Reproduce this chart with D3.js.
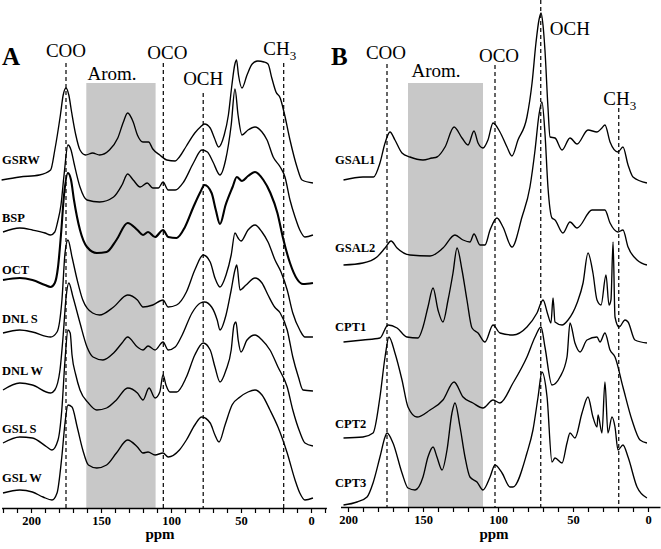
<!DOCTYPE html>
<html>
<head>
<meta charset="utf-8">
<script src="https://cdn.jsdelivr.net/npm/d3@7"></script>
<style>
  body { margin: 0; background: #fff; }
  svg text { font-family: "Liberation Serif", "Times New Roman", serif; fill: #000; }
</style>
</head>
<body>
<div id="chart"></div>
<script>
// ---- data: [ppm, intensity above the spectrum's own baseline] ----
var ppmLabels = [200, 150, 100, 50, 0];
var aromRangeA = [160.5, 111];
var aromRangeB = [160, 110];
var markerNames = ["COO", "OCO", "OCH", "CH3"];
var markerPpmA = [175, 105.5, 77, 19.5];
var markerPpmB = [174, 102, 71.5, 19.5];

var namesA = ["GSRW", "BSP", "OCT", "DNL S", "DNL W", "GSL S", "GSL W"];
var offsetsA = [328, 275, 226, 173, 121, 63, 11];
var namesB = ["GSAL1", "GSAL2", "CPT1", "CPT2", "CPT3"];
var offsetsB = [327, 242, 165, 67, 5];

var gsrw = [[221,0],[208,3],[194,5],[186,10],[183,30],[179,65],[177,85],[175,92],[173,85],[171,68],[168,45],[165,30],[161,25],[156,27],[151,25],[144,30],[138,42],[134,58],[131,67],[127,58],[124,45],[120,38],[116,38],[113,31],[108,25],[103,20],[97,19],[94,23],[89,34],[83,47],[79,53],[76,56],[72,52],[69,42],[66,33],[62,45],[59,65],[56.5,95],[54.5,115],[53.2,120],[51.8,105],[49.3,92],[45.7,105],[42,116],[38,119],[33.6,118],[30.7,116],[28,102],[25,88],[22,82],[19.3,68],[15,40],[10,13],[6.4,0],[-1.4,-3]];
var bsp = [[220,1],[208,5],[199,3],[190,0],[186,-2],[183,1],[181,11],[178.6,28],[176.4,58],[173.6,88],[171.4,83],[169.3,70],[165,46],[160,33],[151,31],[141,36],[135,48],[131,59],[127,53],[122,46],[117,50],[113,45],[109,45],[105.7,51],[102,43],[97,43],[91,51],[84,70],[78,83],[74,81],[70,71],[65,58],[61,73],[57,108],[54.3,144],[52.1,118],[49.3,98],[45,103],[40,106],[35,101],[31.4,93],[27,76],[22,66],[18.6,56],[15,33],[11.4,16],[8,3],[4.3,-4],[-1.4,-2]];
var oct = [[220,2],[208,4],[199,2],[190,-3],[186,-5],[183,-1],[180.7,15],[178.6,47],[176.4,87],[173.6,109],[171.4,102],[169.3,82],[165,52],[160,35],[153,29],[146,30],[139,42],[131,59],[124,52],[120,47],[116.4,50],[111.4,45],[105.7,52],[102,45],[96,44],[90,55],[84,75],[79,90],[76,97],[71,89],[68,72],[65,58],[61,77],[56,95],[53,105],[49.3,101],[45,106],[40,110],[34,102],[29,89],[24,69],[20,44],[15,19],[10,3],[5.7,-2],[-1.4,-1]];
var dnlS = [[220,2],[208,5],[199,3],[186,-2],[181.4,3],[177.9,35],[175.7,82],[173.6,95],[170.7,78],[167,55],[163,35],[156,22],[151,20],[141,28],[131,40],[124,35],[120,28],[113,30],[105.7,35],[102,28],[96,30],[89,43],[83,65],[77,80],[72,73],[68.6,57],[65,48],[60.7,60],[57,80],[54.3,102],[52.1,97],[50,94],[45,105],[40,110],[35,103],[30.7,93],[25.7,75],[21.4,63],[17,45],[13,22],[8,5],[4.3,-2],[-1.4,-2]];
var dnlW = [[220,-3],[208,4],[199,2],[186,-6],[183,-3],[179.3,17],[177,52],[175,89],[173,104],[170,90],[165,64],[160,40],[155.7,30],[148.6,27],[141,34],[135,44],[131,50],[124,40],[120,37],[116.4,41],[111.4,37],[105.7,45],[102,37],[97,40],[92,52],[85,74],[79,84],[76,85],[71,80],[67,67],[65,57],[60.7,72],[57,97],[54.3,117],[53,122],[50.7,97],[46.4,102],[40,109],[35,104],[30.7,92],[26,80],[22,74],[17,57],[13,30],[9,10],[5.7,-3],[-1.4,-4]];
var gslS = [[220,2],[208,8],[199,7],[188.6,-2],[185,-5],[180.7,5],[178,35],[175.7,85],[173.6,115],[172,112],[170.7,90],[168,70],[165,55],[159,42],[153,35],[146,37],[139,45],[131,57],[124,52],[120,45],[115.7,57],[111.4,47],[108,53],[105.7,70],[103.6,60],[100.7,53],[96,53],[89,68],[83,90],[77,102],[72,95],[68.6,78],[65,63],[60.7,75],[57,95],[55,120],[53.6,123],[52,105],[50,93],[45.7,105],[40,110],[35,105],[29.3,95],[23.6,78],[17,58],[13,35],[8,13],[4.3,2],[-1.4,-1]];
var gslW = [[220,4],[208,7],[199,5],[191.4,0],[185,-3],[181.4,4],[178,40],[175.7,74],[173.6,92],[170.7,90],[167,70],[163,47],[159,32],[153,29],[146,32],[139,44],[131,57],[124,50],[120,44],[116.4,45],[111.4,42],[105.7,44],[102,40],[94,47],[89,57],[83,72],[78,80],[72,74],[68.6,62],[65.7,55],[61.4,72],[56.4,92],[50.7,100],[45,105],[40,107],[35,102],[29.3,87],[23.6,70],[17,44],[11.4,17],[8,4],[4.3,-3],[-1.4,-1]];

var gsal1 = [[203,0],[190,3],[183,3],[178.7,17],[175.3,37],[172,48],[168.7,40],[164,27],[158.7,23],[150,20],[144,22],[140.7,23],[135.3,33],[129.3,53],[124,42],[120,35],[116,49],[113.3,37],[110,32],[106.7,40],[103.3,57],[98.7,48],[94,33],[90.7,24],[86.7,40],[80.7,63],[77.3,97],[74.7,137],[72.7,160],[71.3,167],[70,155],[68.7,130],[66.7,73],[65.3,43],[62,42],[57.3,30],[52,42],[47.3,36],[40,50],[34,48],[30.7,52],[28.7,55],[25.3,38],[20,28],[16.7,33],[13.3,15],[10,3],[0.7,-3]];
var gsal2 = [[203,0],[190,2],[180.7,8],[175.3,17],[171.3,24],[167.3,17],[158.7,10],[145.3,9],[136.7,17],[128.7,30],[123.3,25],[118.7,23],[116,31],[112,20],[108.7,20],[105.3,35],[100.7,47],[96.7,38],[90.7,18],[84,48],[78.7,78],[75.3,115],[72.7,150],[70.7,163],[68.7,132],[66.7,78],[64,47],[62,45],[56.7,32],[52,43],[47.3,37],[37.3,55],[28.7,55],[25.3,42],[20,33],[16.7,35],[13.3,18],[7.3,5],[0.7,0]];
var cpt1 = [[203,0],[190,2],[178.7,4],[173.3,17],[167.3,14],[160.7,5],[153.3,4],[150,15],[146.7,35],[143.3,54],[140,32],[136.7,20],[133.3,42],[130,69],[127.3,94],[124,72],[120.7,42],[117.3,14],[113.3,9],[108.7,0],[103.3,17],[98.7,9],[90,7],[80.7,15],[74,29],[70,42],[66.7,27],[64.7,19],[63.3,44],[62,20],[57.3,17],[53.3,22],[47.3,39],[43.3,59],[40,89],[36.7,69],[34,42],[31.3,37],[28,67],[26,37],[24.7,42],[23.3,100],[22,25],[19.3,15],[15.3,22],[13.3,20],[8.7,2],[0.7,-1]];
var cpt2 = [[203,2],[190,3],[183.3,7],[178.7,43],[175.3,83],[172.7,103],[168.7,87],[164,60],[160,33],[154,23],[145.3,30],[136.7,40],[129.3,58],[123.3,43],[116.7,37],[110,32],[103.3,40],[98.7,37],[90,57],[80.7,83],[75.3,103],[71.3,113],[68.7,93],[64,55],[58.7,63],[54,83],[52,117],[48.7,97],[45.3,88],[40.7,100],[34,103],[32,98],[28.7,107],[25.3,90],[22,83],[16.7,53],[10.7,20],[5.3,0],[0.7,-3]];
var cpt3 = [[203,-3],[194,0],[187.3,5],[183.3,19],[178.7,45],[175.3,65],[174,69],[170,59],[164,29],[160,14],[155.3,12],[150,25],[146.7,45],[143.3,55],[140.7,45],[137.3,32],[134,52],[130.7,89],[128.7,99],[125.3,75],[122,45],[118.7,25],[114,20],[110,12],[105.3,25],[102,37],[97.3,29],[92,15],[90,15],[80.7,49],[76.7,72],[73.3,105],[70.7,130],[67.3,105],[64,40],[62,44],[57.3,39],[54,59],[52,69],[48.7,64],[44,89],[40,105],[36.7,85],[34,75],[33.3,87],[30.7,69],[28.7,120],[26.7,69],[24,85],[22,75],[20,52],[16.7,57],[13.3,45],[7.3,15],[0.7,4]];

var spectraA = [gsrw, bsp, oct, dnlS, dnlW, gslS, gslW];
var spectraB = [gsal1, gsal2, cpt1, cpt2, cpt3];

// ---- drawing ----
var svg = d3.select("#chart").append("svg")
    .attr("width", 661)
    .attr("height", 549);

function drawPanel(p) {
  var x = d3.scaleLinear().domain(p.ppmDomain).range(p.xRange);
  var y = d3.scaleLinear().domain([0, p.axisY]).range([p.axisY, 0]);
  var g = svg.append("g");

  // aromatic region
  g.append("rect")
    .attr("x", x(p.arom[0]))
    .attr("y", 83)
    .attr("width", x(p.arom[1]) - x(p.arom[0]))
    .attr("height", p.axisY - 83)
    .attr("fill", "#c8c8c8");

  // assignment lines
  p.markerPpm.forEach(function(d, i) {
    g.append("line")
      .attr("x1", x(d)).attr("x2", x(d))
      .attr("y1", p.markerTop[i]).attr("y2", p.axisY)
      .attr("stroke", "#000")
      .attr("stroke-width", 1.2)
      .attr("stroke-dasharray", "4,3");
  });

  // spectra
  var line = d3.line()
    .x(function(d) { return x(d[0]); })
    .curve(d3.curveMonotoneX);
  p.spectra.forEach(function(s, i) {
    line.y(function(d) { return y(d[1] + p.offsets[i]); });
    g.append("path")
      .attr("d", line(s))
      .attr("fill", "none")
      .attr("stroke", "#000")
      .attr("stroke-width", p.thick[i] ? 2.1 : 1.35)
      .attr("stroke-linejoin", "round");
  });

  // sample names
  p.names.forEach(function(n, i) {
    g.append("text")
      .attr("x", p.nameX)
      .attr("y", p.nameY[i])
      .style("font-size", "12.5px")
      .style("font-weight", "bold")
      .text(n);
  });

  // assignment labels
  markerNames.forEach(function(n, i) {
    var t = g.append("text")
      .attr("x", x(p.markerPpm[i]) + p.labelDx[i])
      .attr("y", p.labelY[i])
      .attr("text-anchor", p.labelAnchor[i])
      .style("font-size", "19px");
    if (n === "CH3") {
      t.text("CH");
      t.append("tspan").attr("dy", 5).attr("fill", "#000")
        .style("font-size", "13px").text("3");
    } else {
      t.text(n);
    }
  });
  g.append("text")
    .attr("x", p.aromLabelX)
    .attr("y", p.aromLabelY)
    .attr("text-anchor", "middle")
    .style("font-size", "19px")
    .text("Arom.");

  // panel letter
  g.append("text")
    .attr("x", p.letterX)
    .attr("y", 65)
    .style("font-size", "25px")
    .style("font-weight", "bold")
    .text(p.letter);

  // axis
  var ax = g.append("g")
    .attr("transform", "translate(0," + p.axisY + ")")
    .call(d3.axisBottom(x)
      .tickValues(p.tickValues)
      .tickSize(5)
      .tickSizeOuter(0)
      .tickFormat(function(d) { return ppmLabels.indexOf(d) >= 0 ? d : ""; }));
  ax.select(".domain").attr("stroke-width", 1.6);
  ax.selectAll(".tick line").attr("stroke-width", 1.2);
  ax.selectAll(".tick text")
    .style("font-family", "'Liberation Serif', serif")
    .style("font-size", "12.5px")
    .style("font-weight", "bold");

  g.append("text")
    .attr("x", p.ppmX)
    .attr("y", 539)
    .attr("text-anchor", "middle")
    .style("font-size", "15px")
    .style("font-weight", "bold")
    .text("ppm");
}

drawPanel({
  letter: "A", letterX: 2,
  ppmDomain: [221, -11], xRange: [1.6, 326.4], axisY: 508,
  tickValues: d3.range(220, -11, -10),
  arom: aromRangeA,
  markerPpm: markerPpmA, markerTop: [63, 63, 93, 63],
  labelDx: [0, 4, 0, -4], labelY: [57, 59, 85, 55],
  labelAnchor: ["middle", "middle", "middle", "middle"],
  aromLabelX: 112, aromLabelY: 80,
  spectra: spectraA, offsets: offsetsA, thick: [0, 0, 1, 0, 0, 0, 0],
  names: namesA, nameX: 2, nameY: [164, 222, 274, 323, 375, 433, 482],
  ppmX: 160
});

drawPanel({
  letter: "B", letterX: 331,
  ppmDomain: [205, -8], xRange: [340.5, 660], axisY: 507,
  tickValues: d3.range(200, -1, -10),
  arom: aromRangeB,
  markerPpm: markerPpmB, markerTop: [64, 65, 0, 108],
  labelDx: [-1, 4, 9, 1], labelY: [59, 62, 35, 105],
  labelAnchor: ["middle", "middle", "start", "middle"],
  aromLabelX: 436, aromLabelY: 77,
  spectra: spectraB, offsets: offsetsB, thick: [0, 0, 0, 0, 0],
  names: namesB, nameX: 335, nameY: [164, 252, 331, 428, 487],
  ppmX: 494
});
</script>
</body>
</html>
